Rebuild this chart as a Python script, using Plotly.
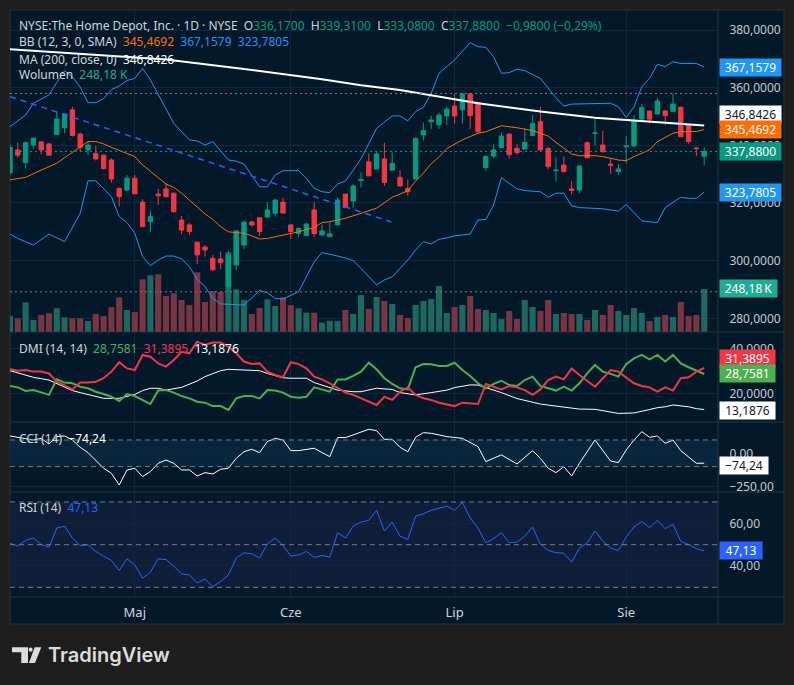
import plotly.graph_objects as go

# --- KOLORY (TradingView dark) ---
C_OUT = "#1e1e1e"      # tlo poza wykresem
C_BG = "#03192a"       # tlo wykresu
C_GRID = "#14273a"
C_SEP = "#2b333f"
C_TEXT = "#d1d4dc"
C_AXIS = "#c5c8cf"
C_UP = "#089981"
C_DN = "#f23645"
C_VOL_UP = "#1d685f"
C_VOL_DN = "#7a3543"
C_BB = "#2196f3"
C_BASIS = "#ff6d00"
C_TREND = "#2962ff"
C_PDI = "#4caf50"
C_RSI = "#2962ff"
FONT = "Noto Sans, Open Sans, sans-serif"

# --- DANE ---
bars = list(range(90))
month_idx = [16, 36, 57, 79]
month_txt = ["Maj", "Cze", "Lip", "Sie"]

opens = [330.5, 338.4, 334.0, 340.1, 341.2, 340.5, 343.7, 346.1, 352.3, 343.9,
         338.4, 337.2, 336.6, 334.9, 325.1, 324.5, 328.6, 320.3, 313.5, 323.1,
         324.9, 323.4, 314.1, 312.4, 306.4, 304.7, 300.8, 300.6, 291.0, 298.5,
         305.4, 313.4, 314.9, 315.1, 316.4, 320.3, 312.4, 309.4, 308.7, 317.6,
         308.9, 308.3, 312.4, 323.1, 320.7, 327.8, 334.3, 331.8, 335.3, 331.4,
         328.9, 325.0, 328.3, 343.6, 348.2, 347.1, 350.2, 353.6, 352.3, 357.8,
         354.9, 332.3, 336.3, 339.2, 343.9, 339.0, 338.7, 343.4, 348.2, 339.0,
         331.2, 333.2, 324.9, 324.5, 340.9, 344.1, 340.1, 333.5, 330.9, 339.5,
         339.8, 349.1, 351.9, 350.9, 351.9, 351.7, 353.2, 347.1, 339.1, 336.17]
highs = [340.2, 340.9, 341.3, 342.6, 341.3, 340.9, 351.8, 350.9, 353.4, 344.4,
         341.3, 339.8, 336.8, 335.5, 325.3, 329.7, 329.7, 321.3, 317.3, 324.9,
         326.6, 323.6, 315.5, 313.0, 306.6, 305.4, 302.0, 303.2, 303.5, 310.6,
         313.9, 313.9, 315.0, 320.4, 321.4, 321.7, 312.6, 311.4, 313.0, 320.2,
         312.6, 313.3, 322.0, 323.1, 326.5, 330.6, 337.2, 337.8, 340.9, 337.5,
         331.4, 328.2, 342.7, 348.0, 350.3, 351.3, 353.4, 357.8, 358.0, 358.0,
         355.1, 336.6, 340.4, 344.4, 344.2, 340.4, 345.9, 350.5, 353.4, 339.2,
         335.8, 336.1, 327.6, 333.2, 341.3, 349.1, 345.0, 335.3, 333.4, 343.2,
         350.5, 354.3, 352.0, 356.3, 352.3, 358.0, 353.4, 347.4, 339.5, 339.31]
lows = [329.8, 335.7, 331.9, 338.9, 336.9, 336.6, 343.7, 344.2, 343.0, 337.9,
        336.6, 334.7, 331.7, 327.0, 318.7, 324.2, 323.2, 311.8, 310.1, 319.3,
        322.0, 316.6, 309.2, 308.9, 298.8, 301.4, 296.5, 297.1, 289.2, 296.8,
        304.0, 311.8, 308.6, 315.1, 315.3, 316.5, 307.5, 308.3, 308.7, 308.2,
        308.7, 308.3, 312.4, 318.2, 318.4, 325.4, 329.4, 331.8, 325.9, 331.4,
        325.9, 322.4, 328.2, 341.6, 345.7, 345.7, 347.1, 347.6, 347.6, 345.7,
        344.2, 331.2, 335.5, 339.2, 335.3, 336.7, 338.7, 343.4, 338.2, 331.7,
        327.4, 330.5, 323.0, 323.4, 335.5, 340.1, 337.5, 330.1, 329.7, 333.7,
        339.5, 348.2, 347.6, 350.9, 347.1, 351.7, 342.8, 340.5, 336.3, 333.08]
closes = [339.3, 336.6, 340.9, 342.5, 338.4, 336.6, 349.1, 350.9, 343.4, 339.3,
          340.1, 335.3, 331.9, 328.3, 322.2, 328.6, 323.2, 311.8, 315.3, 322.5,
          322.2, 317.0, 310.6, 310.1, 302.0, 303.7, 296.8, 299.3, 302.0, 310.3,
          313.3, 312.4, 310.1, 317.6, 321.0, 316.5, 310.1, 311.2, 312.7, 309.4,
          310.3, 309.3, 321.0, 318.4, 325.9, 328.1, 329.4, 337.0, 327.1, 333.7,
          325.9, 323.9, 342.4, 345.1, 348.8, 350.5, 352.6, 350.2, 357.8, 350.3,
          344.7, 336.1, 338.4, 343.2, 336.7, 337.5, 341.0, 347.6, 338.4, 332.6,
          331.4, 330.9, 324.3, 332.8, 335.7, 344.3, 337.8, 333.1, 331.8, 339.8,
          348.4, 353.1, 349.1, 355.4, 350.3, 354.3, 343.0, 341.3, 338.86, 337.88]
volumes = [92e3, 79e3, 171e3, 69e3, 98e3, 108e3, 137e3, 85e3, 79e3, 79e3,
           63e3, 104e3, 92e3, 143e3, 200e3, 127e3, 115e3, 304e3, 327e3, 333e3,
           208e3, 223e3, 185e3, 156e3, 344e3, 173e3, 237e3, 231e3, 460e3, 246e3,
           185e3, 104e3, 138e3, 189e3, 150e3, 200e3, 156e3, 137e3, 111e3, 111e3,
           54e3, 65e3, 65e3, 127e3, 104e3, 213e3, 133e3, 202e3, 179e3, 162e3,
           98e3, 81e3, 156e3, 179e3, 190e3, 265e3, 110e3, 144e3, 156e3, 208e3,
           133e3, 127e3, 110e3, 75e3, 121e3, 75e3, 185e3, 144e3, 121e3, 185e3,
           104e3, 110e3, 104e3, 104e3, 69e3, 127e3, 98e3, 156e3, 121e3, 98e3,
           138e3, 110e3, 63e3, 87e3, 98e3, 87e3, 173e3, 92e3, 98e3, 248.18e3]

# Bollinger (12, 3) - punkty (slupek, wartosc)
bb_upper = [(0, 346.5), (2, 350.5), (3, 354.6), (4, 356.0), (5, 357.5), (6, 361.8),
            (7, 365.9), (8, 363.7), (9, 360.2), (10, 354.8), (11, 354.8), (12, 356.3),
            (13, 359.3), (14, 360.6), (15, 362.5), (16, 363.2), (17, 366.7), (18, 362.7),
            (19, 357.5), (20, 352.3), (21, 347.6), (23, 341.9), (24, 341.5), (25, 340.1),
            (26, 341.3), (28, 334.9), (29, 334.5), (30, 333.5), (32, 325.6), (33, 325.6),
            (34, 329.7), (35, 331.2), (37, 331.2), (38, 328.6), (39, 325.1), (40, 323.9),
            (41, 323.6), (42, 326.6), (43, 327.6), (44, 331.4), (45, 335.3), (47, 345.9),
            (49, 350.2), (50, 350.2), (51, 348.5), (52, 351.7), (53, 353.2), (54, 358.0),
            (55, 365.0), (57, 369.6), (59, 375.6), (60, 374.2), (61, 374.0), (62, 370.7),
            (63, 365.0), (64, 365.2), (65, 366.4), (66, 365.9), (68, 363.2), (70, 356.5),
            (71, 353.6), (72, 354.3), (75, 354.6), (77, 354.6), (78, 353.4), (79, 349.6),
            (80, 353.4), (81, 360.3), (82, 363.2), (83, 368.1), (84, 367.3), (85, 369.0),
            (86, 368.4), (88, 368.4), (89, 367.1579)]
bb_basis = [(0, 328.0), (2, 328.9), (4, 331.4), (6, 333.8), (7, 335.7), (8, 337.5),
            (9, 339.5), (10, 341.3), (11, 341.3), (12, 340.5), (13, 339.3), (14, 338.3),
            (15, 337.2), (16, 336.1), (17, 333.2), (18, 330.9), (19, 328.6), (20, 326.6),
            (21, 325.4), (22, 323.4), (23, 321.0), (24, 318.5), (25, 316.2), (26, 314.3),
            (27, 311.8), (28, 310.0), (29, 309.7), (30, 309.5), (31, 308.6), (32, 307.5),
            (33, 307.7), (35, 308.9), (37, 310.0), (39, 311.5), (40, 313.2), (41, 313.5),
            (43, 314.7), (45, 316.4), (47, 318.2), (49, 322.0), (51, 324.2), (52, 327.6),
            (53, 330.4), (54, 333.6), (55, 336.0), (56, 338.9), (57, 340.5), (58, 341.9),
            (60, 344.2), (61, 344.7), (63, 346.8), (65, 346.1), (67, 345.1), (69, 343.2),
            (70, 341.0), (72, 337.0), (73, 336.4), (75, 336.4), (76, 336.1), (78, 334.9),
            (79, 334.7), (80, 336.1), (82, 338.4), (83, 341.3), (85, 344.2), (86, 344.7),
            (88, 344.8), (89, 345.4692)]
bb_lower = [(0, 309.2), (1, 307.7), (3, 305.4), (5, 309.2), (7, 306.6), (9, 316.4),
            (10, 327.7), (11, 327.7), (13, 322.2), (14, 315.3), (15, 313.2), (16, 309.5),
            (17, 301.4), (18, 298.3), (19, 300.2), (20, 301.6), (21, 301.6), (22, 300.6),
            (23, 297.9), (24, 293.5), (25, 291.0), (26, 286.9), (27, 285.0), (28, 284.8),
            (29, 284.7), (30, 284.6), (32, 289.6), (33, 288.9), (34, 286.9), (35, 286.7),
            (37, 289.2), (39, 299.6), (40, 302.8), (41, 302.3), (42, 301.6), (43, 300.9),
            (44, 300.0), (45, 297.3), (46, 294.4), (47, 291.6), (48, 293.3), (49, 294.4),
            (50, 297.3), (51, 300.2), (52, 303.7), (53, 306.6), (54, 305.8), (55, 307.4),
            (56, 307.9), (57, 308.6), (58, 308.9), (59, 309.2), (60, 314.1), (61, 314.3),
            (62, 319.3), (63, 328.8), (64, 326.8), (65, 324.9), (66, 324.3), (67, 324.2),
            (68, 323.9), (69, 322.0), (70, 323.4), (71, 323.4), (72, 319.0), (73, 318.4),
            (74, 318.3), (75, 318.2), (76, 318.0), (77, 317.6), (78, 317.2), (79, 319.5),
            (80, 316.8), (81, 313.8), (82, 313.5), (83, 313.2), (84, 318.4), (85, 320.1),
            (86, 322.0), (87, 321.6), (88, 321.6), (89, 323.7805)]
ma200 = [(0, 373.3), (10, 371.6), (20, 369.8), (30, 366.5), (40, 362.9), (45, 360.8),
         (50, 359.2), (60, 354.6), (68, 351.7), (75, 349.6), (89, 346.8426)]
trend_line = [(0, 356.9), (48.9, 313.4)]

# DMI (14, 14)
dmi_plus = [(0, 23.5), (1, 22.9), (2, 21.3), (3, 21.7), (4, 20.7), (5, 19.6), (6, 26.4),
            (7, 25.0), (8, 24.7), (9, 23.2), (10, 22.5), (11, 21.0), (12, 20.0), (13, 18.8),
            (14, 16.9), (15, 20.0), (16, 19.1), (17, 17.4), (18, 15.6), (19, 21.5), (20, 21.7),
            (21, 20.6), (22, 19.1), (23, 18.1), (24, 16.6), (25, 16.2), (26, 14.7), (27, 14.7),
            (28, 13.0), (29, 18.1), (30, 19.1), (31, 19.1), (32, 18.1), (33, 21.7), (34, 21.5),
            (35, 20.6), (36, 18.8), (37, 18.4), (38, 18.8), (39, 22.9), (40, 22.0), (41, 21.0),
            (42, 26.4), (43, 26.4), (44, 27.9), (45, 29.8), (46, 33.7), (47, 30.8), (48, 26.9),
            (49, 24.4), (50, 22.5), (51, 22.0), (52, 31.7), (53, 33.1), (54, 33.0), (55, 32.3),
            (56, 32.3), (57, 33.7), (58, 30.5), (59, 27.9), (60, 24.7), (61, 22.5), (62, 24.4),
            (63, 25.8), (64, 23.9), (65, 23.5), (66, 26.1), (67, 27.6), (68, 23.5), (69, 22.5),
            (70, 21.5), (71, 23.2), (72, 21.5), (73, 24.7), (74, 29.0), (75, 32.7), (76, 29.8),
            (77, 28.8), (78, 27.6), (79, 33.1), (80, 35.6), (81, 37.1), (82, 35.2), (83, 37.1),
            (84, 34.2), (85, 37.1), (86, 33.4), (87, 31.7), (88, 30.2), (89, 28.7581)]
dmi_minus = [(0, 30.8), (1, 30.2), (2, 30.5), (3, 29.8), (4, 29.8), (5, 29.0), (6, 25.4),
             (8, 22.0), (9, 25.0), (10, 25.0), (11, 25.4), (12, 26.9), (13, 29.8), (14, 33.9),
             (15, 31.2), (16, 30.5), (17, 37.1), (18, 36.3), (19, 33.4), (20, 32.0), (21, 34.9),
             (22, 38.5), (23, 37.8), (24, 42.9), (25, 41.5), (26, 42.5), (27, 42.5), (28, 40.7),
             (29, 37.8), (30, 34.2), (31, 33.1), (32, 33.4), (33, 29.8), (34, 28.3), (35, 27.3),
             (36, 33.9), (37, 33.1), (38, 31.2), (39, 27.6), (40, 26.4), (41, 24.7), (42, 22.5),
             (43, 20.6), (44, 19.6), (45, 18.1), (46, 16.6), (47, 15.2), (48, 18.8), (49, 17.4),
             (50, 21.0), (51, 22.9), (52, 19.6), (53, 18.1), (54, 17.4), (55, 16.2), (57, 14.7),
             (58, 16.2), (60, 15.6), (61, 24.4), (63, 22.0), (64, 23.5), (65, 22.9), (66, 21.7),
             (67, 19.6), (68, 22.0), (69, 26.1), (70, 27.6), (71, 26.4), (72, 31.2), (73, 28.3),
             (75, 23.2), (77, 30.5), (78, 29.8), (80, 24.7), (81, 23.5), (82, 22.9), (83, 21.0),
             (84, 22.9), (85, 21.5), (86, 26.9), (87, 27.3), (88, 29.8), (89, 31.3895)]
adx = [(0, 30.2), (2, 28.3), (3, 27.3), (5, 26.1), (7, 23.2), (8, 21.5), (9, 20.6), (11, 18.8),
       (12, 18.1), (14, 18.1), (15, 19.1), (16, 19.8), (17, 21.5), (18, 22.5), (19, 22.5),
       (20, 21.7), (22, 22.9), (23, 24.2), (24, 25.7), (25, 27.6), (27, 30.2), (28, 30.8),
       (30, 30.5), (32, 30.2), (33, 29.0), (35, 27.1), (36, 26.9), (38, 26.9), (39, 25.0),
       (41, 22.9), (42, 21.7), (44, 21.0), (45, 21.0), (47, 22.5), (49, 22.0), (50, 20.6),
       (52, 19.6), (54, 20.6), (56, 21.7), (57, 22.8), (59, 24.0), (60, 23.9), (61, 22.9),
       (63, 20.6), (65, 18.0), (66, 17.1), (68, 15.6), (70, 14.7), (71, 14.3), (73, 13.4),
       (75, 13.3), (76, 12.6), (77, 12.0), (78, 11.5), (80, 11.7), (81, 12.3), (82, 13.2),
       (83, 14.0), (84, 14.4), (85, 15.2), (87, 14.4), (88, 13.6), (89, 13.1876)]

# CCI (14)
cci = [(0, 130), (1, 120), (3, 100), (4, 112), (5, 70), (6, 125), (7, 130), (8, 100), (9, 45),
       (10, 5), (11, -50), (12, -112), (13, -150), (14, -238), (15, -125), (16, -112), (17, -175),
       (18, -137), (19, -75), (20, -50), (21, -75), (22, -125), (23, -125), (24, -170), (25, -145),
       (26, -155), (27, -120), (28, -112), (29, -38), (30, 12), (31, 30), (32, 5), (33, 88),
       (34, 112), (35, 100), (36, 20), (37, 20), (38, 30), (39, 38), (40, 5), (41, -25), (42, 118),
       (43, 118), (44, 138), (45, 162), (46, 180), (47, 170), (48, 105), (49, 105), (50, 45),
       (51, 12), (52, 120), (53, 155), (54, 150), (55, 138), (56, 125), (58, 112), (60, 50),
       (61, -62), (63, -12), (65, -80), (67, 20), (68, -38), (69, -112), (70, -145), (71, -100),
       (72, -170), (73, -75), (75, 100), (77, -58), (78, -70), (79, 25), (80, 100), (81, 162),
       (82, 120), (83, 130), (84, 75), (85, 100), (86, 20), (87, -25), (88, -75), (89, -74.24)]

# RSI (14)
rsi = [50.7, 49.3, 52.0, 53.1, 50.1, 48.8, 57.8, 58.7, 53.1, 49.6,
       49.9, 46.8, 44.6, 42.6, 37.9, 43.4, 40.5, 34.3, 37.1, 43.4,
       43.0, 39.9, 36.3, 35.8, 32.1, 33.9, 30.3, 32.7, 35.8, 43.7,
       46.2, 45.7, 43.8, 50.4, 53.1, 49.6, 44.6, 45.2, 46.8, 44.1,
       44.9, 44.1, 55.6, 53.1, 58.7, 60.6, 61.4, 66.1, 56.4, 60.6,
       54.0, 52.5, 63.3, 64.5, 66.1, 67.2, 68.0, 66.1, 69.7, 62.5,
       57.8, 50.9, 52.8, 55.6, 50.9, 51.2, 54.0, 58.3, 50.1, 47.3,
       46.2, 46.0, 41.8, 48.4, 50.9, 56.4, 51.7, 48.4, 47.3, 53.5,
       58.3, 60.9, 57.9, 61.4, 57.5, 59.5, 51.5, 50.1, 48.1, 47.13]

# --- GEOMETRIA (piksele -> paper) ---
PL, PR, PT, PB = 10, 718, 10, 597


def px(x):
    return (x - PL) / (PR - PL)


def py(y):
    return (PB - y) / (PB - PT)


def xy(pairs):
    return [p[0] for p in pairs], [p[1] for p in pairs]


fig = go.Figure()

# Wolumen (os y, pod cenami)
vol_colors = [C_VOL_UP if c >= o else C_VOL_DN for o, c in zip(opens, closes)]
fig.add_trace(go.Bar(x=bars, y=volumes, marker=dict(color=vol_colors, line=dict(width=0)),
                     xaxis="x", yaxis="y", hoverinfo="skip"))

# Linie na panelu ceny (os y2)
for pairs, col, w, dash in [(bb_upper, C_BB, 1, "solid"), (bb_lower, C_BB, 1, "solid"),
                            (bb_basis, C_BASIS, 1, "solid"), (ma200, "#ffffff", 2, "solid"),
                            (trend_line, C_TREND, 1.5, "6px,5px")]:
    xs, ys = xy(pairs)
    fig.add_trace(go.Scatter(x=xs, y=ys, mode="lines", line=dict(color=col, width=w, dash=dash),
                             xaxis="x", yaxis="y2", hoverinfo="skip"))

fig.add_trace(go.Candlestick(
    x=bars, open=opens, high=highs, low=lows, close=closes,
    increasing=dict(line=dict(color=C_UP, width=1), fillcolor=C_UP),
    decreasing=dict(line=dict(color=C_DN, width=1), fillcolor=C_DN),
    whiskerwidth=0, xaxis="x", yaxis="y2", hoverinfo="skip"))

# DMI
for pairs, col, w in [(adx, "#ffffff", 1), (dmi_plus, C_PDI, 2), (dmi_minus, C_DN, 2)]:
    xs, ys = xy(pairs)
    fig.add_trace(go.Scatter(x=xs, y=ys, mode="lines", line=dict(color=col, width=w),
                             xaxis="x2", yaxis="y3", hoverinfo="skip"))

# CCI
xs, ys = xy(cci)
fig.add_trace(go.Scatter(x=xs, y=ys, mode="lines", line=dict(color="#ffffff", width=1),
                         xaxis="x3", yaxis="y4", hoverinfo="skip"))

# RSI
fig.add_trace(go.Scatter(x=bars, y=rsi, mode="lines", line=dict(color=C_RSI, width=1),
                         xaxis="x4", yaxis="y5", hoverinfo="skip"))

# --- OSIE ---
D_MAIN = [py(332), 1]
D_DMI = [py(422), py(332)]
D_CCI = [py(492), py(422)]
D_RSI = [0, py(492)]

xbase = dict(range=[0, 90.77], tickvals=month_idx, ticktext=month_txt, showgrid=True,
             gridcolor=C_GRID, gridwidth=1, zeroline=False, showline=False,
             showticklabels=False, fixedrange=True)
ybase = dict(side="right", showgrid=True, gridcolor=C_GRID, zeroline=False, showline=False,
             ticks="outside", ticklen=8, tickcolor="rgba(0,0,0,0)",
             tickfont=dict(family=FONT, size=12, color=C_AXIS))

price_ticks = [280, 300, 320, 340, 360, 380]

fig.update_layout(
    xaxis=dict(xbase, anchor="y", rangeslider=dict(visible=False)),
    xaxis2=dict(xbase, anchor="y3", matches="x"),
    xaxis3=dict(xbase, anchor="y4", matches="x"),
    xaxis4=dict(xbase, anchor="y5", matches="x", showticklabels=True, ticks="outside",
                ticklen=3, tickcolor="rgba(0,0,0,0)",
                tickfont=dict(family=FONT, size=13, color=C_TEXT)),
    yaxis=dict(domain=D_MAIN, range=[0, 1858000], visible=False, anchor="x"),
    yaxis2=dict(ybase, domain=D_MAIN, overlaying="y", anchor="x", range=[275.25, 386.94],
                tickvals=price_ticks, ticktext=[f"{v},0000" for v in price_ticks]),
    yaxis3=dict(ybase, domain=D_DMI, anchor="x2", range=[7.74, 47.14],
                tickvals=[20, 40], ticktext=["20,0000", "40,0000"]),
    yaxis4=dict(ybase, domain=D_CCI, anchor="x3", range=[-290.3, 234.8],
                tickvals=[-250, 0], ticktext=["\u2212250,00", "0,00"]),
    yaxis5=dict(ybase, domain=D_RSI, anchor="x4", range=[25.47, 74.67],
                tickvals=[40, 60], ticktext=["40,00", "60,00"]),
)

# --- KSZTALTY ---
shapes = [
    dict(type="rect", xref="paper", yref="paper", x0=px(10), x1=px(784), y0=py(624), y1=py(10),
         fillcolor=C_BG, line=dict(color=C_SEP, width=1), layer="below"),
    dict(type="rect", xref="x3 domain", yref="y4", x0=0, x1=1, y0=-100, y1=100,
         fillcolor="#07263d", line=dict(width=0), layer="below"),
    dict(type="rect", xref="x4 domain", yref="y5", x0=0, x1=1, y0=30, y1=70,
         fillcolor="#0f1f39", line=dict(width=0), layer="below"),
]
for lvl in [-100, 100]:
    shapes.append(dict(type="line", xref="x3 domain", yref="y4", x0=0, x1=1, y0=lvl, y1=lvl,
                       line=dict(color="#787b86", width=1, dash="5px,4px")))
for lvl in [30, 50, 70]:
    shapes.append(dict(type="line", xref="x4 domain", yref="y5", x0=0, x1=1, y0=lvl, y1=lvl,
                       line=dict(color="#787b86", width=1, dash="5px,4px")))
for lvl, col in [(max(highs), "#787b86"), (min(lows), "#787b86"), (closes[-1], C_UP)]:
    shapes.append(dict(type="line", xref="x domain", yref="y2", x0=0, x1=1, y0=lvl, y1=lvl,
                       line=dict(color=col, width=1, dash="2px,3px")))
for yy in [332, 422, 492, 597]:
    shapes.append(dict(type="line", xref="paper", yref="paper", x0=px(10), x1=px(784),
                       y0=py(yy), y1=py(yy), line=dict(color=C_SEP, width=1)))
shapes.append(dict(type="line", xref="paper", yref="paper", x0=px(718), x1=px(718),
                   y0=py(624), y1=py(10), line=dict(color=C_SEP, width=1)))

# logo TradingView


def path(points):
    return "M " + " L ".join(f"{px(a):.5f},{py(b):.5f}" for a, b in points) + " Z"


LOGO = "#dcdcdc"
shapes.append(dict(type="path", xref="paper", yref="paper", fillcolor=LOGO, line=dict(width=0),
                   path=path([(12.0, 647.3), (28.0, 647.3), (28.0, 663.0), (21.3, 663.0),
                              (21.3, 652.3), (12.0, 652.3)])))
shapes.append(dict(type="circle", xref="paper", yref="paper", fillcolor=LOGO, line=dict(width=0),
                   x0=px(28.6), x1=px(32.6), y0=py(651.8), y1=py(647.5)))
shapes.append(dict(type="path", xref="paper", yref="paper", fillcolor=LOGO, line=dict(width=0),
                   path=path([(34.7, 647.3), (41.3, 647.3), (35.0, 663.0), (28.9, 663.0)])))
fig.update_layout(shapes=shapes)

# --- ADNOTACJE ---


def col(t, c):
    return f"<span style='color:{c}'>{t}</span>"


SP = "&nbsp;&nbsp;"
legend_lines = [
    (25, "NYSE:The Home Depot, Inc. · 1D · NYSE" + SP + "O" + col("336,1700", C_UP) + SP
     + "H" + col("339,3100", C_UP) + SP + "L" + col("333,0800", C_UP) + SP
     + "C" + col("337,8800", C_UP) + SP + col("\u22120,9800 (\u22120,29%)", C_UP)),
    (41.7, "BB (12, 3, 0, SMA)" + SP + col("345,4692", C_BASIS) + SP + col("367,1579", C_BB)
     + SP + col("323,7805", C_BB)),
    (59.3, "MA (200, close, 0)" + SP + col("346,8426", "#ffffff")),
    (75, "Wolumen" + SP + col("248,18 K", "#22ab94")),
    (348.3, "DMI (14, 14)" + SP + col("28,7581", C_PDI) + SP + col("31,3895", C_DN) + SP
     + col("13,1876", "#ffffff")),
    (438.3, "CCI (14)" + SP + col("\u221274,24", "#ffffff")),
    (507.7, "RSI (14)" + SP + col("47,13", C_RSI)),
]
annotations = []
for yy, txt in legend_lines:
    annotations.append(dict(text=txt, xref="paper", yref="paper", x=px(17), y=py(yy),
                            xanchor="left", yanchor="middle", showarrow=False,
                            font=dict(family=FONT, size=12, color=C_TEXT)))


def tag(text, y, yref, bg, fg="#ffffff", shift=0, w=57):
    return dict(text=text, x=1, xref="paper", xanchor="left", xshift=1, y=y, yref=yref,
                yanchor="middle", yshift=shift, showarrow=False, bgcolor=bg,
                font=dict(family=FONT, size=12, color=fg), width=w, height=13,
                borderpad=2, align="center")


annotations += [
    tag("367,1579", 367.1579, "y2", C_BB),
    tag("346,8426", 346.8426, "y2", "#ffffff", "#131722", shift=11.6),
    tag("345,4692", 345.4692, "y2", C_BASIS),
    tag("337,8800", closes[-1], "y2", C_UP),
    tag("323,7805", 323.7805, "y2", C_BB),
    tag("248,18\u2009K", volumes[-1], "y", "#22ab94", w=53),
    tag("31,3895", 31.3895, "y3", C_DN, shift=9.7, w=51),
    tag("28,7581", 28.7581, "y3", C_PDI, w=51),
    tag("13,1876", 13.1876, "y3", "#ffffff", "#131722", shift=-1, w=51),
    tag("\u221274,24", -74.24, "y4", "#ffffff", "#131722", shift=-1.8, w=44),
    tag("47,13", 47.13, "y5", C_RSI, w=38),
    dict(text="TradingView", xref="paper", yref="paper", x=px(46), y=py(655),
         xanchor="left", yanchor="middle", showarrow=False,
         font=dict(family="Inter, Lato, sans-serif", size=20, color=LOGO, weight=600)),
]
fig.update_layout(annotations=annotations)

fig.update_layout(
    width=794, height=685,
    margin=dict(l=PL, r=794 - PR, t=PT, b=685 - PB),
    paper_bgcolor=C_OUT, plot_bgcolor="rgba(0,0,0,0)",
    showlegend=False, bargap=0.22, boxgap=0.3, boxgroupgap=0.2,
    hovermode=False, font=dict(family=FONT, color=C_TEXT),
)

# strona bez marginesu, zeby wykres zaczynal sie w (0, 0); bez paska narzedzi
fig.write_html("out.html", config={"displayModeBar": False},
               post_script="document.body.style.margin='0px';")
